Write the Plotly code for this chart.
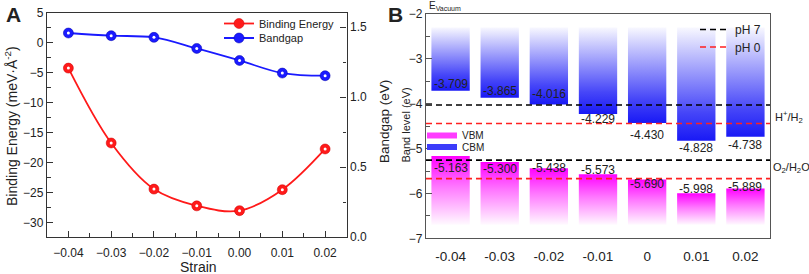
import plotly.graph_objects as go

# ---------------- data ----------------
strain = [-0.04, -0.03, -0.02, -0.01, 0.00, 0.01, 0.02]
binding_energy = [-4.2, -16.7, -24.4, -27.2, -28.0, -24.5, -17.7]
bandgap = [1.457, 1.438, 1.426, 1.347, 1.261, 1.171, 1.152]

strain_labels = ["-0.04", "-0.03", "-0.02", "-0.01", "0", "0.01", "0.02"]
cbm = [-3.709, -3.865, -4.016, -4.229, -4.430, -4.828, -4.738]
vbm = [-5.163, -5.300, -5.438, -5.573, -5.690, -5.998, -5.889]
cbm_fade_top = -2.3
vbm_fade_bottom = -6.7
ph7_levels = [-4.027, -5.257]
ph0_levels = [-4.44, -5.67]

FONT = "Liberation Sans, Arial, sans-serif"
RED = "#ff1a1a"
BLUE = "#1a1aff"
AX = "#333333"
CBM_SCALE = [[0, "rgb(25,25,245)"], [0.25, "rgb(70,70,248)"], [1, "rgb(248,248,255)"]]
VBM_SCALE = [[0, "rgb(255,250,255)"], [0.55, "rgb(255,120,255)"], [1, "rgb(255,0,255)"]]

fig = go.Figure()

# ---------------- panel A ----------------
fig.add_trace(go.Scatter(
    x=strain, y=binding_energy, name="Binding Energy", mode="lines+markers",
    line=dict(color=RED, width=1.8, shape="spline", smoothing=1.0),
    marker=dict(color=RED, size=10, line=dict(color="#cc0000", width=0.5)),
    xaxis="x", yaxis="y", legend="legend"))
fig.add_trace(go.Scatter(
    x=strain, y=bandgap, name="Bandgap", mode="lines+markers",
    line=dict(color=BLUE, width=1.8, shape="spline", smoothing=1.0),
    marker=dict(color=BLUE, size=10, line=dict(color="#0000aa", width=0.5)),
    xaxis="x", yaxis="y2", legend="legend2"))
# highlights on the balls
fig.add_trace(go.Scatter(x=strain, y=binding_energy, mode="markers", showlegend=False,
                         marker=dict(color="white", size=3), hoverinfo="skip",
                         xaxis="x", yaxis="y"))
fig.add_trace(go.Scatter(x=strain, y=bandgap, mode="markers", showlegend=False,
                         marker=dict(color="white", size=3), hoverinfo="skip",
                         xaxis="x", yaxis="y2"))

# ---------------- panel B ----------------
n = len(strain_labels)
hw = 0.39
xpos = list(range(n))
for i in xpos:
    fig.add_trace(go.Scatter(
        x=[i - hw, i + hw, i + hw, i - hw, i - hw],
        y=[cbm_fade_top, cbm_fade_top, cbm[i], cbm[i], cbm_fade_top],
        mode="none", fill="toself", showlegend=False,
        fillgradient=dict(type="vertical", colorscale=CBM_SCALE),
        hoverinfo="skip", xaxis="x2", yaxis="y3"))
for i in xpos:
    fig.add_trace(go.Scatter(
        x=[i - hw, i + hw, i + hw, i - hw, i - hw],
        y=[vbm[i], vbm[i], vbm_fade_bottom, vbm_fade_bottom, vbm[i]],
        mode="none", fill="toself", showlegend=False,
        fillgradient=dict(type="vertical", colorscale=VBM_SCALE),
        hoverinfo="skip", xaxis="x2", yaxis="y3"))
# legend keys for the bars
fig.add_trace(go.Scatter(x=[None], y=[None], mode="none", fill="toself",
                         fillcolor="rgb(255,60,255)", name="VBM", legend="legend5",
                         xaxis="x2", yaxis="y3"))
fig.add_trace(go.Scatter(x=[None], y=[None], mode="none", fill="toself",
                         fillcolor="rgb(60,60,250)", name="CBM", legend="legend6",
                         xaxis="x2", yaxis="y3"))

x_lo, x_hi = -0.5, n - 0.5
fig.add_trace(go.Scatter(
    x=[x_lo, x_hi, None, x_lo, x_hi],
    y=[ph7_levels[0], ph7_levels[0], None, ph7_levels[1], ph7_levels[1]],
    mode="lines", name="pH 7", line=dict(color="black", width=1.6, dash="6px,4px"),
    legend="legend3", xaxis="x2", yaxis="y3"))
fig.add_trace(go.Scatter(
    x=[x_lo, x_hi, None, x_lo, x_hi],
    y=[ph0_levels[0], ph0_levels[0], None, ph0_levels[1], ph0_levels[1]],
    mode="lines", name="pH 0", line=dict(color="#ff2020", width=1.6, dash="6px,4px"),
    legend="legend4", xaxis="x2", yaxis="y3"))

# value labels (pixel nudges only, positions come from the data)
cbm_shift = [7, 7, 10, -5, -12, -7, -8]
vbm_shift = [-12, -7, 0, 4, -4, 4, 1]
for i in xpos:
    fig.add_annotation(x=i, y=cbm[i], xref="x2", yref="y3", text=f"{cbm[i]:.3f}",
                       showarrow=False, yanchor="middle", yshift=cbm_shift[i],
                       font=dict(size=12, color="#222", family=FONT))
    fig.add_annotation(x=i, y=vbm[i], xref="x2", yref="y3", text=f"{vbm[i]:.3f}",
                       showarrow=False, yanchor="middle", yshift=vbm_shift[i],
                       font=dict(size=12, color="#222", family=FONT))

# ---------------- layout ----------------
W, H = 809, 274
def px(x):
    return x / W
def py(y):
    return 1 - y / H

tickfont = dict(size=12, color="#222", family=FONT)
common = dict(showline=True, linecolor=AX, linewidth=1.3, ticks="inside",
              ticklen=6, tickwidth=1.2, tickcolor=AX, showgrid=False,
              zeroline=False, tickfont=tickfont, automargin=False)

def leg(xl, yc, size):
    return dict(x=px(xl), xanchor="left", y=py(yc), yanchor="middle",
                bgcolor="rgba(0,0,0,0)", borderwidth=0,
                font=dict(size=size, family=FONT, color="#222"),
                tracegroupgap=0, itemwidth=30)

fig.update_layout(
    template="none",
    width=W, height=H, margin=dict(l=0, r=0, t=0, b=0, autoexpand=False),
    paper_bgcolor="white", plot_bgcolor="white",
    font=dict(family=FONT, color="#222"),
    xaxis=dict(domain=[px(47), px(346.5)], anchor="y", range=[-0.045, 0.025],
               tick0=-0.04, dtick=0.01, tickformat=".2f", mirror=True,
               ticklabelstandoff=4,
               minor=dict(dtick=0.005, ticks="inside", ticklen=3.5, tickcolor=AX),
               **common),
    yaxis=dict(domain=[py(237), py(13)], anchor="x", range=[-32.4, 5], dtick=5,
               minor=dict(dtick=2.5, ticks="inside", ticklen=3.5, tickcolor=AX),
               **common),
    yaxis2=dict(overlaying="y", side="right", anchor="x", range=[0, 1.6], dtick=0.5,
                tickformat=".1f",
                minor=dict(dtick=0.25, ticks="inside", ticklen=3.5, tickcolor=AX),
                **common),
    xaxis2=dict(domain=[px(426), px(770)], anchor="y3", range=[x_lo, x_hi],
                tickmode="array", tickvals=xpos, ticktext=strain_labels,
                showline=True, mirror=True, linecolor="#555", linewidth=1.3,
                ticks="", showgrid=False, zeroline=False, automargin=False,
                ticklabelstandoff=5,
                tickfont=dict(size=13.5, color="#222", family=FONT)),
    yaxis3=dict(domain=[py(238.3), py(14)], anchor="x2", range=[-7, -2], dtick=1,
                mirror=True, automargin=False,
                minor=dict(dtick=0.5, ticks="inside", ticklen=3.5, tickcolor="#555"),
                showline=True, linecolor="#555", linewidth=1.3, ticks="inside",
                ticklen=6, tickcolor="#555", showgrid=False, zeroline=False,
                tickfont=tickfont),
    legend=leg(219, 23.5, 11),
    legend2=leg(219, 38, 11),
    legend3=leg(695, 29.5, 12),
    legend4=leg(695, 47, 12),
    legend5=leg(422, 135.5, 10),
    legend6=leg(422, 147, 10),
)

ann = [
    dict(text="<b>A</b>", x=px(13), y=py(15), font=dict(size=21)),
    dict(text="<b>B</b>", x=px(395), y=py(15), font=dict(size=21)),
    dict(text="Binding Energy (meV·Å<sup>-2</sup>)", x=px(11), y=py(126),
         textangle=-90, font=dict(size=14)),
    dict(text="Bandgap (eV)", x=px(384), y=py(122), textangle=-90, font=dict(size=13.5)),
    dict(text="Strain", x=px(198), y=py(267), font=dict(size=14)),
    dict(text="Band level (eV)", x=px(405.5), y=py(125), textangle=-90, font=dict(size=11)),
    dict(text="E<sub>Vacuum</sub>", x=px(427), y=py(6), xanchor="left", font=dict(size=10)),
    dict(text="H<sup>+</sup>/H<sub>2</sub>", x=px(773), y=py(117), xanchor="left",
         font=dict(size=11)),
    dict(text="O<sub>2</sub>/H<sub>2</sub>O", x=px(771), y=py(168), xanchor="left",
         font=dict(size=11)),
]
for a in ann:
    a.setdefault("xref", "paper")
    a.setdefault("yref", "paper")
    a.setdefault("showarrow", False)
    a.setdefault("xanchor", "center")
    a.setdefault("yanchor", "middle")
    a["font"] = dict(family=FONT, color="#222", **a["font"])
    fig.add_annotation(**a)

fig.write_html("out.html", config={"displayModeBar": False},
               post_script="document.body.style.margin='0';"
                           "document.body.style.overflow='hidden';")
